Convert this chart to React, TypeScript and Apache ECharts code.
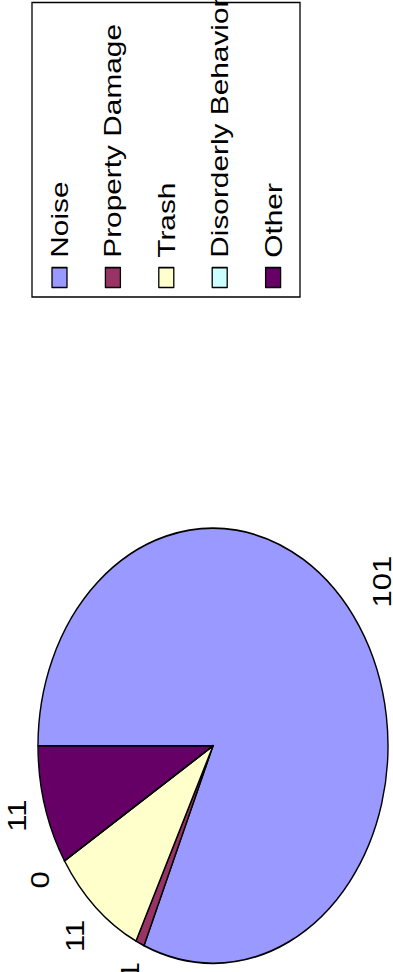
import React, { useEffect, useRef } from "react";
import * as echarts from "echarts";

const categories = ["Noise", "Property Damage", "Trash", "Disorderly Behavior", "Other"];
const values = [101, 1, 11, 0, 11];
const colors = ["#9999FF", "#993366", "#FFFFCC", "#CCFFFF", "#660066"];
const labelGaps = [27, 24, 31, 29, 29];

const STRETCH = 1.243;
const W0 = 782;
const H0 = 393;

export default function App() {
  const ref = useRef<HTMLDivElement>(null);
  useEffect(() => {
    if (!ref.current) return;
    const chart = echarts.init(ref.current, undefined, { renderer: "svg" });
    chart.setOption({
      animation: false,
      backgroundColor: "#ffffff",
      color: colors,
      textStyle: { fontFamily: "Liberation Sans, Arial, sans-serif" },
      legend: {
        orient: "vertical",
        left: 550,
        top: 47.5,
        icon: "rect",
        itemWidth: 16,
        itemHeight: 15,
        itemGap: 29.4,
        padding: 0,
        data: categories,
        itemStyle: { borderColor: "#000", borderWidth: 1.3 },
        textStyle: {
          fontSize: 24,
          lineHeight: 24,
          color: "#000",
          fontFamily: "Liberation Sans, Arial, sans-serif",
          padding: [0, 0, 0, 3],
        },
      },
      graphic: [
        {
          type: "rect",
          z: -1,
          shape: { x: 543, y: 32, width: 237, height: 268 },
          style: { fill: "none", stroke: "#000", lineWidth: 1.3 },
        },
      ],
      series: [
        {
          type: "pie",
          center: [182, 213],
          radius: 175,
          startAngle: 90,
          clockwise: true,
          avoidLabelOverlap: false,
          itemStyle: { borderColor: "#000", borderWidth: 1.4 },
          label: {
            show: true,
            position: "outside",
            formatter: "{c}",
            fontSize: 25,
            color: "#000",
            distanceToLabelLine: 0,
            fontFamily: "Liberation Sans, Arial, sans-serif",
          },
          labelLine: { show: false, length: 30, length2: 0 },
          labelLayout: (params: any) =>
            params.dataIndex === 0 ? undefined : { align: "center", verticalAlign: "middle" },
          emphasis: { disabled: true },
          data: categories.map((name, i) => ({
            name,
            value: values[i],
            labelLine: { show: false, length: labelGaps[i], length2: 0 },
          })),
        },
      ],
    });
    return () => chart.dispose();
  }, []);
  return (
    <div
      style={{
        position: "fixed",
        left: 0,
        top: 0,
        width: 393,
        height: 972,
        overflow: "hidden",
        background: "#fff",
      }}
    >
      <div
        ref={ref}
        style={{
          position: "absolute",
          left: 0,
          top: 0,
          width: W0,
          height: H0,
          transformOrigin: "0 0",
          transform: `translate(0px, 972px) rotate(-90deg) scaleX(${STRETCH})`,
        }}
      />
    </div>
  );
}
